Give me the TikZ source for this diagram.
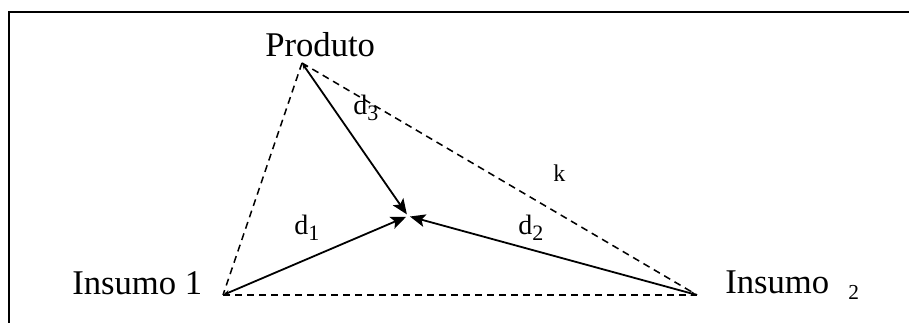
\documentclass[tikz,border=0pt]{standalone}
\usepackage{fontspec}
\setmainfont{Liberation Serif}
\usetikzlibrary{arrows.meta}
\newcommand\dlab[1]{d\raisebox{-4.2pt}{\fontsize{16.5pt}{17pt}\selectfont #1}}
\begin{document}
\begin{tikzpicture}[x=0.75pt,y=-0.75pt,
  lbl/.style={inner sep=0pt,anchor=base west,font=\fontsize{26pt}{28pt}\selectfont},
  dl/.style={inner sep=0pt,anchor=base west,font=\fontsize{21pt}{22pt}\selectfont},
  vec/.style={line width=1.35pt,{Stealth[length=5pt,width=3.5pt]}-{Stealth[length=11.5pt,width=9.5pt,inset=2.5pt]},shorten >=1.5pt},
  dsh/.style={line width=1.15pt,dash pattern=on 5.25pt off 3.75pt}]
\useasboundingbox (0,0) rectangle (909,323);
\fill[white] (0,0) rectangle (909,323);
% frame
\draw[line width=1.9pt] (9,323) -- (9,12) -- (909,12);
% vertices
\coordinate (P) at (302,63);
\coordinate (A) at (223,295);
\coordinate (B) at (697,295);
\coordinate (C) at (408,216);
% dashed triangle
\draw[dsh] (P) -- (A);
\draw[dsh] (P) -- (B);
\draw[dsh] (A) -- (B);
% vectors
\draw[vec] (P) -- (C);
\draw[vec] (A) -- (C);
\draw[vec] (B) -- (C);
% labels
\node[lbl] (prod) at (265,57) {Produto};
\node[lbl] (ins1) at (72,295) {Insumo 1};
\node[lbl] (ins2) at (725,294) {Insumo};
\node[inner sep=0pt,anchor=base west,font=\fontsize{16pt}{17pt}\selectfont] (two) at (848,300) {2};
\node[dl] (d3) at (353,115) {\dlab{3}};
\node[dl] (d1) at (294,235) {\dlab{1}};
\node[dl] (d2) at (518,235) {\dlab{2}};
\node[inner sep=0pt,anchor=base west,font=\fontsize{18pt}{19pt}\selectfont] (k) at (553,182) {k};
\end{tikzpicture}
\end{document}
